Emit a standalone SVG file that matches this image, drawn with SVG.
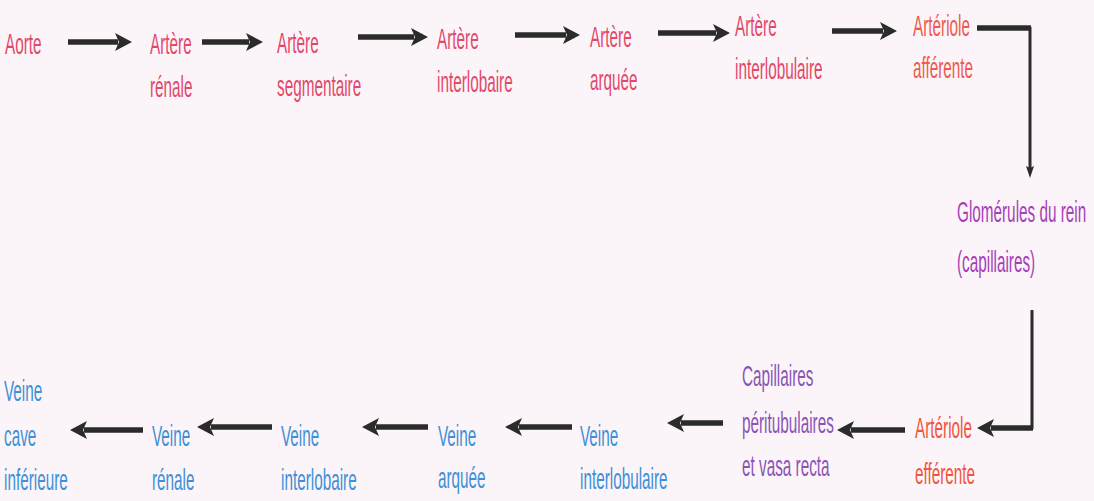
<svg xmlns="http://www.w3.org/2000/svg" width="1094" height="501" viewBox="0 0 1094 501">
<defs>
<style>
text{font-family:"Liberation Sans",Arial,sans-serif;font-size:30px;}
.art{fill:#e2486a;}
.arl{fill:#ef5a4e;}
.glo{fill:#a63fb8;}
.cap{fill:#8a54b6;}
.eff{fill:#f0563c;}
.vei{fill:#3f8fd6;}
.thick{fill:none;stroke:#2b2b2b;stroke-width:5.5;}
.thin{fill:none;stroke:#2b2b2b;stroke-width:3;}
</style>
<marker id="ah" markerUnits="userSpaceOnUse" markerWidth="18" markerHeight="20" refX="3" refY="10" orient="auto" viewBox="0 0 18 20">
<path d="M0,1 L17,10 L0,19 L4,10 Z" fill="#2b2b2b"/>
</marker>
<marker id="ahs" markerUnits="userSpaceOnUse" markerWidth="12" markerHeight="18" refX="3" refY="6" orient="auto" viewBox="0 0 18 12">
<path d="M0,0 L18,6 L0,12 L3,6 Z" fill="#2b2b2b"/>
</marker>
</defs>
<rect width="1094" height="501" fill="#fbf5f9"/>

<g id="connectors">
<path class="thick" d="M68,42 H118" marker-end="url(#ah)"/>
<path class="thick" d="M202,42 H249" marker-end="url(#ah)"/>
<path class="thick" d="M358,37 H414" marker-end="url(#ah)"/>
<path class="thick" d="M515,35 H566" marker-end="url(#ah)"/>
<path class="thick" d="M658,33 H716" marker-end="url(#ah)"/>
<path class="thick" d="M832,31 H883" marker-end="url(#ah)"/>
<path class="thick" d="M977,28 H1031"/>
<path class="thin" d="M1030,27 V168" marker-end="url(#ahs)"/>
<path class="thin" d="M1032,310 V429"/>
<path class="thick" d="M1033,428 H991" marker-end="url(#ah)"/>
<path class="thick" d="M905,430 H851" marker-end="url(#ah)"/>
<path class="thick" d="M723,423 H681" marker-end="url(#ah)"/>
<path class="thick" d="M572,427 H519" marker-end="url(#ah)"/>
<path class="thick" d="M428,427 H376" marker-end="url(#ah)"/>
<path class="thick" d="M272,427 H211" marker-end="url(#ah)"/>
<path class="thick" d="M143,430 H84" marker-end="url(#ah)"/>
</g>

<g id="aorte"><text class="art" transform="translate(5,54) scale(0.51,1)">Aorte</text></g>
<g id="artere-renale">
<text class="art" transform="translate(150,54) scale(0.51,1)">Artère</text>
<text class="art" transform="translate(150,97) scale(0.51,1)">rénale</text>
</g>
<g id="artere-segmentaire">
<text class="art" transform="translate(277,53) scale(0.51,1)">Artère</text>
<text class="art" transform="translate(277,96) scale(0.51,1)">segmentaire</text>
</g>
<g id="artere-interlobaire">
<text class="art" transform="translate(437,49) scale(0.51,1)">Artère</text>
<text class="art" transform="translate(437,92) scale(0.51,1)">interlobaire</text>
</g>
<g id="artere-arquee">
<text class="art" transform="translate(590,47) scale(0.51,1)">Artère</text>
<text class="art" transform="translate(590,90) scale(0.51,1)">arquée</text>
</g>
<g id="artere-interlobulaire">
<text class="art" transform="translate(735,36) scale(0.51,1)">Artère</text>
<text class="art" transform="translate(735,79) scale(0.51,1)">interlobulaire</text>
</g>
<g id="arteriole-afferente">
<text class="arl" transform="translate(913,36) scale(0.51,1)">Artériole</text>
<text class="arl" transform="translate(913,78) scale(0.51,1)">afférente</text>
</g>
<g id="glomerules">
<text class="glo" transform="translate(957,222) scale(0.51,1)">Glomérules du rein</text>
<text class="glo" transform="translate(957,272) scale(0.51,1)">(capillaires)</text>
</g>
<g id="arteriole-efferente">
<text class="eff" transform="translate(915,438) scale(0.51,1)">Artériole</text>
<text class="eff" transform="translate(915,484) scale(0.51,1)">efférente</text>
</g>
<g id="capillaires-peritubulaires">
<text class="cap" transform="translate(742,386) scale(0.51,1)">Capillaires</text>
<text class="cap" transform="translate(742,433) scale(0.51,1)">péritubulaires</text>
<text class="cap" transform="translate(742,476) scale(0.51,1)">et vasa recta</text>
</g>
<g id="veine-interlobulaire">
<text class="vei" transform="translate(580,446) scale(0.51,1)">Veine</text>
<text class="vei" transform="translate(580,489) scale(0.51,1)">interlobulaire</text>
</g>
<g id="veine-arquee">
<text class="vei" transform="translate(438,446) scale(0.51,1)">Veine</text>
<text class="vei" transform="translate(438,488) scale(0.51,1)">arquée</text>
</g>
<g id="veine-interlobaire">
<text class="vei" transform="translate(281,446) scale(0.51,1)">Veine</text>
<text class="vei" transform="translate(281,490) scale(0.51,1)">interlobaire</text>
</g>
<g id="veine-renale">
<text class="vei" transform="translate(152,446) scale(0.51,1)">Veine</text>
<text class="vei" transform="translate(152,490) scale(0.51,1)">rénale</text>
</g>
<g id="veine-cave-inferieure">
<text class="vei" transform="translate(4,401) scale(0.51,1)">Veine</text>
<text class="vei" transform="translate(4,446) scale(0.51,1)">cave</text>
<text class="vei" transform="translate(4,490) scale(0.51,1)">inférieure</text>
</g>
</svg>
